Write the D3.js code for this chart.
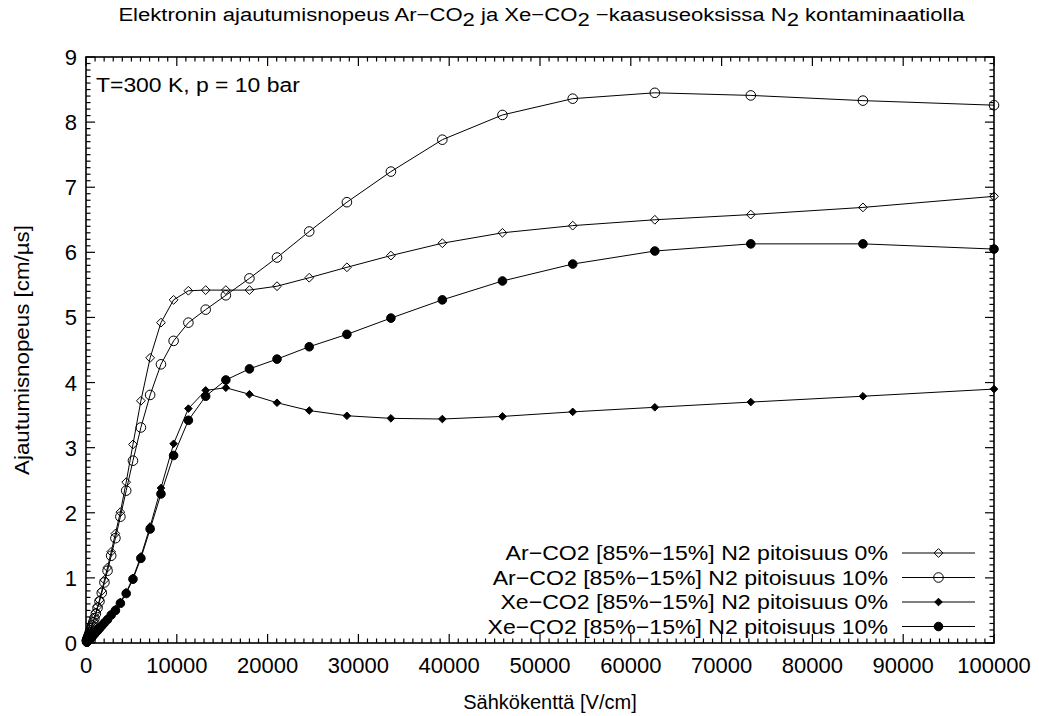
<!DOCTYPE html>
<html>
<head>
<meta charset="utf-8">
<script src="https://cdn.jsdelivr.net/npm/d3@7"></script>
<style>
  html, body { margin: 0; padding: 0; background: #fff; }
  svg { display: block; }
  text { font-family: "Liberation Sans", Arial, Helvetica, sans-serif; fill: #000; }
</style>
</head>
<body>
<svg id="chart" width="1039" height="716"></svg>
<script>
// Electric field values [V/cm]
const field = [90, 105, 123, 143, 168, 196, 229, 267, 313, 365, 427, 499, 583, 682, 797, 931,
  1088, 1272, 1486, 1737, 2030, 2372, 2773, 3240, 3787, 4426, 5172, 6045, 7064, 8256, 9649,
  11276, 13179, 15402, 18000, 21036, 24585, 28733, 33580, 39245, 45865, 53603, 62646, 73215, 85566, 100000];

// Drift velocities [cm/µs]
const arN2_0 = [0.034, 0.040, 0.047, 0.055, 0.064, 0.075, 0.088, 0.105, 0.125, 0.145, 0.17, 0.20, 0.24, 0.28, 0.33, 0.39,
  0.47, 0.56, 0.66, 0.80, 0.97, 1.16, 1.40, 1.68, 2.01, 2.47, 3.05, 3.72, 4.38, 4.92, 5.27,
  5.41, 5.42, 5.42, 5.42, 5.48, 5.61, 5.77, 5.95, 6.14, 6.30, 6.41, 6.50, 6.58, 6.69, 6.86];
const arN2_10 = [0.033, 0.039, 0.045, 0.053, 0.062, 0.073, 0.085, 0.10, 0.12, 0.14, 0.165, 0.195, 0.23, 0.27, 0.32, 0.38,
  0.45, 0.54, 0.64, 0.77, 0.93, 1.11, 1.34, 1.61, 1.94, 2.34, 2.80, 3.31, 3.81, 4.28, 4.64,
  4.92, 5.12, 5.34, 5.60, 5.92, 6.32, 6.77, 7.24, 7.73, 8.11, 8.36, 8.45, 8.41, 8.33, 8.26];
const xeN2_0 = [0.014, 0.016, 0.019, 0.022, 0.026, 0.030, 0.035, 0.041, 0.048, 0.056, 0.065, 0.076, 0.089, 0.104, 0.122, 0.143,
  0.168, 0.196, 0.23, 0.27, 0.315, 0.37, 0.44, 0.52, 0.63, 0.78, 1.00, 1.33, 1.79, 2.38, 3.06,
  3.60, 3.88, 3.92, 3.82, 3.69, 3.57, 3.49, 3.45, 3.44, 3.48, 3.55, 3.62, 3.70, 3.79, 3.90];
const xeN2_10 = [0.013, 0.016, 0.018, 0.021, 0.025, 0.029, 0.034, 0.040, 0.046, 0.054, 0.063, 0.074, 0.087, 0.10, 0.12, 0.14,
  0.165, 0.19, 0.225, 0.265, 0.31, 0.36, 0.43, 0.50, 0.61, 0.76, 0.98, 1.30, 1.75, 2.29, 2.88,
  3.42, 3.79, 4.04, 4.21, 4.36, 4.55, 4.74, 4.99, 5.27, 5.56, 5.82, 6.02, 6.13, 6.13, 6.05];

const seriesNames = [
  "Ar\u2212CO2 [85%\u221215%] N2 pitoisuus 0%",
  "Ar\u2212CO2 [85%\u221215%] N2 pitoisuus 10%",
  "Xe\u2212CO2 [85%\u221215%] N2 pitoisuus 0%",
  "Xe\u2212CO2 [85%\u221215%] N2 pitoisuus 10%"
];
const seriesValues = [arN2_0, arN2_10, xeN2_0, xeN2_10];
const seriesMarkers = ["diamondOpen", "circleOpen", "diamondFilled", "circleFilled"];

const xTicks = [0, 10000, 20000, 30000, 40000, 50000, 60000, 70000, 80000, 90000, 100000];
const yTicks = [0, 1, 2, 3, 4, 5, 6, 7, 8, 9];

const svg = d3.select("#chart");
const plot = { left: 86, right: 994, top: 57, bottom: 643 };
const x = d3.scaleLinear().domain([0, 100000]).range([plot.left, plot.right]);
const y = d3.scaleLinear().domain([0, 9]).range([plot.bottom, plot.top]);

const FS = 21;
const TICK_FS = 22;

// Places a text at (ax, ay) and widens it horizontally to the given width
function wideText(parent, ax, ay, anchor, width, size) {
  const g = parent.append("g");
  const t = g.append("text").attr("x", 0).attr("y", 0)
    .attr("text-anchor", anchor).attr("font-size", size);
  return { g, t, factor: 1, fit() {
    const w = t.node().getBBox().width;
    this.factor = width / w;
    g.attr("transform", `translate(${ax},${ay}) scale(${this.factor},1)`);
  } };
}

// Frame
svg.append("rect")
  .attr("x", plot.left).attr("y", plot.top)
  .attr("width", plot.right - plot.left).attr("height", plot.bottom - plot.top)
  .attr("fill", "none").attr("stroke", "#000").attr("stroke-width", 1.6);

// Inward ticks on all four sides
const major = 9, minor = 4.5;
const ticks = svg.append("g").attr("stroke", "#000").attr("stroke-width", 1.2);
d3.range(0, 100001, 1000).forEach(v => {
  const len = v % 10000 === 0 ? major : minor;
  ticks.append("line").attr("x1", x(v)).attr("x2", x(v)).attr("y1", plot.bottom).attr("y2", plot.bottom - len);
  ticks.append("line").attr("x1", x(v)).attr("x2", x(v)).attr("y1", plot.top).attr("y2", plot.top + len);
});
d3.range(0, 91).forEach(i => {
  const v = i / 10;
  const len = i % 10 === 0 ? major : minor;
  ticks.append("line").attr("x1", plot.left).attr("x2", plot.left + len).attr("y1", y(v)).attr("y2", y(v));
  ticks.append("line").attr("x1", plot.right).attr("x2", plot.right - len).attr("y1", y(v)).attr("y2", y(v));
});

// Tick labels
svg.append("g").selectAll("text").data(xTicks).join("text")
  .attr("x", d => x(d)).attr("y", plot.bottom + 30)
  .attr("text-anchor", "middle").attr("font-size", TICK_FS)
  .text(d => d);
svg.append("g").selectAll("text").data(yTicks).join("text")
  .attr("x", plot.left - 9).attr("y", d => y(d) + 8)
  .attr("text-anchor", "end").attr("font-size", TICK_FS)
  .text(d => d);

// Axis titles
svg.append("text").attr("x", 550).attr("y", 709)
  .attr("text-anchor", "middle").attr("font-size", 20).text("Sähkökenttä [V/cm]");
const yLabel = svg.append("text")
  .attr("text-anchor", "middle").attr("font-size", 20).text("Ajautumisnopeus [cm/µs]");
const yLabelW = yLabel.node().getBBox().width;
yLabel.attr("transform", `translate(29,${(plot.top + plot.bottom) / 2}) rotate(-90) scale(${250 / yLabelW},1)`);

// Title with subscripts
const title = wideText(svg, 541.5, 21, "middle", 847, 19);
const titleParts = [
  ["Elektronin ajautumisnopeus Ar\u2212CO", false], ["2", true],
  [" ja Xe\u2212CO", false], ["2", true],
  [" \u2212kaasuseoksissa N", false], ["2", true],
  [" kontaminaatiolla", false]
];
titleParts.forEach(([txt, sub], i) => {
  let dy = 0;
  if (sub) dy = 5;
  else if (i > 0 && titleParts[i - 1][1]) dy = -5;
  title.t.append("tspan").attr("dy", dy).text(txt);
});
title.fit();

// Annotation
const note = wideText(svg, 96, 92, "start", 204, FS);
note.t.text("T=300 K, p = 10 bar");
note.fit();

// Marker drawing
function drawMarker(g, type, cx, cy) {
  if (type === "diamondOpen" || type === "diamondFilled") {
    const s = type === "diamondOpen" ? 4.4 : 3.8;
    g.append("path")
      .attr("d", `M${cx},${cy - s}L${cx + s},${cy}L${cx},${cy + s}L${cx - s},${cy}Z`)
      .attr("fill", type === "diamondOpen" ? "none" : "#000")
      .attr("stroke", "#000").attr("stroke-width", 1);
  } else {
    const r = type === "circleOpen" ? 4.8 : 4.3;
    g.append("circle").attr("cx", cx).attr("cy", cy).attr("r", r)
      .attr("fill", type === "circleOpen" ? "none" : "#000")
      .attr("stroke", "#000").attr("stroke-width", 1);
  }
}

const line = d3.line().x(d => x(d[0])).y(d => y(d[1]));

seriesValues.forEach((vals, si) => {
  const pts = field.map((e, i) => [e, vals[i]]);
  const g = svg.append("g");
  g.append("path").attr("d", line(pts)).attr("fill", "none")
    .attr("stroke", "#000").attr("stroke-width", 1);
  pts.forEach(p => drawMarker(g, seriesMarkers[si], x(p[0]), y(p[1])));
});

// Legend
const legendTop = 553, legendStep = 24.5;
const legendStretch = 1.1;
seriesNames.forEach((name, i) => {
  const ly = legendTop + i * legendStep;
  const g = svg.append("g");
  g.append("text").attr("transform", `translate(888,${ly + 7}) scale(${legendStretch},1)`)
    .attr("text-anchor", "end").attr("font-size", FS).text(name);
  g.append("line").attr("x1", 902).attr("x2", 975).attr("y1", ly).attr("y2", ly)
    .attr("stroke", "#000").attr("stroke-width", 1);
  drawMarker(g, seriesMarkers[i], 938.5, ly);
});
</script>
</body>
</html>
